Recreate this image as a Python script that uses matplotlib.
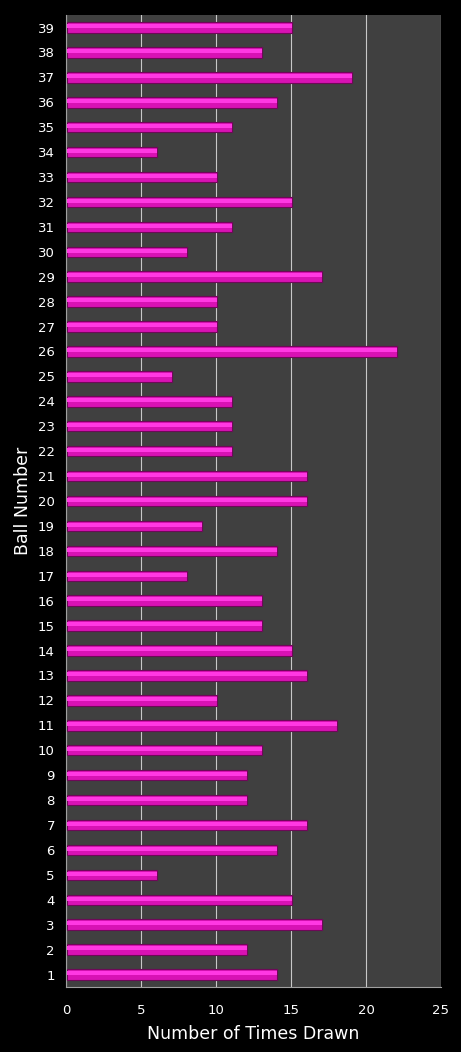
import numpy as np
import matplotlib.pyplot as plt

balls = list(range(1, 40))
times_drawn = [14, 12, 17, 15, 6, 14, 16, 12, 12, 13,
               18, 10, 16, 15, 13, 13, 8, 14, 9, 16,
               16, 11, 11, 11, 7, 22, 10, 10, 17, 8,
               11, 15, 10, 6, 11, 14, 19, 13, 15]

fig = plt.figure(figsize=(4.61, 10.52), dpi=100, facecolor="black")
ax = fig.add_axes([0.1432, 0.0618, 0.8134, 0.9239])
ax.set_facecolor("#404040")

ax.barh(balls, times_drawn, height=0.42, left=0.05, color="#d812b4",
        edgecolor="#6e0858", linewidth=0.8, zorder=3)
# glossy band along the upper part of each bar
ax.barh(np.array(balls) + 0.05, times_drawn, height=0.16, left=0.05,
        color="#ff38e2", linewidth=0, zorder=4)

ax.set_xlim(0, 25)
ax.set_ylim(0.5, 39.5)
ax.set_xticks([0, 5, 10, 15, 20, 25])
ax.set_yticks(balls)
ax.xaxis.grid(True, color="#c8c8c8", linewidth=0.8)
ax.set_axisbelow(True)

for s in ["top", "right"]:
    ax.spines[s].set_visible(False)
ax.spines["left"].set_color("#a0a0a0")
ax.spines["bottom"].set_color("#a0a0a0")

ax.tick_params(colors="white", labelsize=9.5, length=0, pad=8)
ax.tick_params(axis="x", pad=12)
ax.set_xlabel("Number of Times Drawn", color="white", fontsize=12.5, labelpad=6)
ax.set_ylabel("Ball Number", color="white", fontsize=12.5, labelpad=4)

fig.savefig("out.png", dpi=100, facecolor="black")
